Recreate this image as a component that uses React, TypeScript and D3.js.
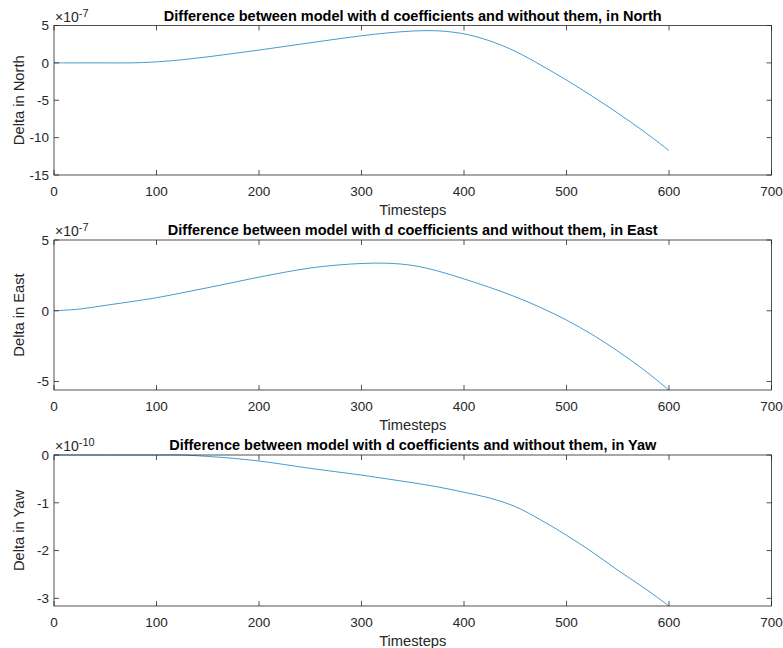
import React from "react";
import * as d3 from "d3";

const timesteps = [0, 25, 50, 75, 100, 125, 150, 175, 200, 225, 250, 275, 300, 325, 350, 375, 400, 425, 450, 475, 500, 525, 550, 575, 600];
const northValues = [0, 0, 0, 0, 0.13, 0.42, 0.81, 1.25, 1.71, 2.2, 2.69, 3.17, 3.63, 4.0, 4.26, 4.28, 3.88, 2.95, 1.55, -0.3, -2.3, -4.45, -6.72, -9.12, -11.73];
const eastValues = [0, 0.12, 0.38, 0.64, 0.92, 1.27, 1.63, 2.0, 2.38, 2.72, 3.02, 3.22, 3.34, 3.36, 3.2, 2.8, 2.25, 1.65, 0.99, 0.22, -0.66, -1.68, -2.85, -4.15, -5.6];
const yawValues = [0, 0, 0, 0, 0, 0, -0.03, -0.07, -0.126, -0.2, -0.28, -0.35, -0.42, -0.5, -0.58, -0.67, -0.78, -0.9, -1.08, -1.36, -1.68, -2.03, -2.41, -2.77, -3.16];

const xTicks = [0, 100, 200, 300, 400, 500, 600, 700];
const northTicks = [-15, -10, -5, 0, 5];
const eastTicks = [-5, 0, 5];
const yawTicks = [-3, -2, -1, 0];

const titles = [
  "Difference between model with d coefficients and without them, in North",
  "Difference between model with d coefficients and without them, in East",
  "Difference between model with d coefficients and without them, in Yaw",
];
const yLabels = ["Delta in North", "Delta in East", "Delta in Yaw"];
const exponents = ["-7", "-7", "-10"];
const xLabel = "Timesteps";

const FONT = "'Liberation Sans', Arial, Helvetica, sans-serif";
const AXIS = "#262626";

type PanelProps = {
  top: number;
  bottom: number;
  values: number[];
  domain: [number, number];
  ticks: number[];
  title: string;
  yLabel: string;
  exponent: string;
};

const LEFT = 54;
const RIGHT = 771.5;

function Panel({ top, bottom, values, domain, ticks, title, yLabel, exponent }: PanelProps) {
  const x = d3.scaleLinear().domain([0, 700]).range([LEFT, RIGHT]);
  const y = d3.scaleLinear().domain(domain).range([bottom, top]);
  const line = d3
    .line<number>()
    .x((_, i) => x(timesteps[i]))
    .y((d) => y(d))
    .curve(d3.curveCatmullRom.alpha(0.5));
  const tl = 5;
  return (
    <g>
      <path d={line(values) || ""} fill="none" stroke="#0072BD" strokeWidth={0.9} strokeOpacity={0.8} />
      <rect x={LEFT} y={top} width={RIGHT - LEFT} height={bottom - top} fill="none" stroke={AXIS} strokeWidth={0.8} />
      {xTicks.map((t) => (
        <g key={"x" + t}>
          <line x1={x(t)} x2={x(t)} y1={bottom} y2={bottom - tl} stroke={AXIS} strokeWidth={0.8} />
          <line x1={x(t)} x2={x(t)} y1={top} y2={top + tl} stroke={AXIS} strokeWidth={0.8} />
          <text x={x(t)} y={bottom + 21} textAnchor="middle" fontSize={13.5} fill={AXIS} fontFamily={FONT}>
            {t}
          </text>
        </g>
      ))}
      {ticks.map((t) => (
        <g key={"y" + t}>
          <line x1={LEFT} x2={LEFT + tl} y1={y(t)} y2={y(t)} stroke={AXIS} strokeWidth={0.8} />
          <line x1={RIGHT} x2={RIGHT - tl} y1={y(t)} y2={y(t)} stroke={AXIS} strokeWidth={0.8} />
          <text x={LEFT - 5} y={y(t)} dy="0.36em" textAnchor="end" fontSize={13.5} fill={AXIS} fontFamily={FONT}>
            {t}
          </text>
        </g>
      ))}
      <text x={(LEFT + RIGHT) / 2} y={top - 5} textAnchor="middle" fontSize={14.5} fontWeight="bold" fill="#000" fontFamily={FONT}>
        {title}
      </text>
      <text x={(LEFT + RIGHT) / 2} y={bottom + 40} textAnchor="middle" fontSize={14.7} fill={AXIS} fontFamily={FONT}>
        {xLabel}
      </text>
      <text
        transform={`translate(${24},${(top + bottom) / 2}) rotate(-90)`}
        textAnchor="middle"
        fontSize={14.7}
        fill={AXIS}
        fontFamily={FONT}
      >
        {yLabel}
      </text>
      <text x={LEFT + 1} y={top - 4} fontSize={14} fill={AXIS} fontFamily={FONT}>
        ×10
        <tspan fontSize={11} dy={-5}>
          {exponent}
        </tspan>
      </text>
    </g>
  );
}

export default function App() {
  return (
    <svg width={783} height={648} style={{ position: "absolute", left: 0, top: 0, background: "#fff" }}>
      <rect width={783} height={648} fill="#fff" />
      <Panel top={25.5} bottom={175} values={northValues} domain={[-15, 5]} ticks={northTicks} title={titles[0]} yLabel={yLabels[0]} exponent={exponents[0]} />
      <Panel top={240} bottom={390} values={eastValues} domain={[-5.6, 5]} ticks={eastTicks} title={titles[1]} yLabel={yLabels[1]} exponent={exponents[1]} />
      <Panel top={455} bottom={606} values={yawValues} domain={[-3.16, 0]} ticks={yawTicks} title={titles[2]} yLabel={yLabels[2]} exponent={exponents[2]} />
    </svg>
  );
}
